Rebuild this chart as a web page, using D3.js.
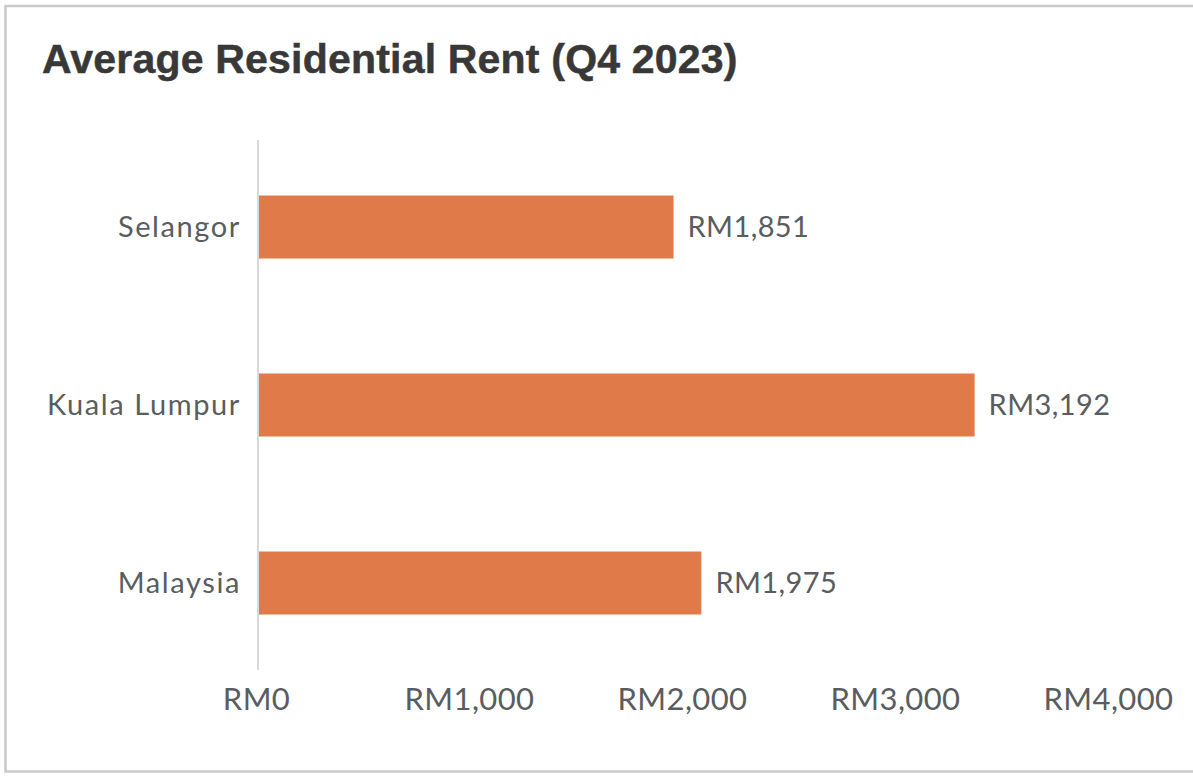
<!DOCTYPE html>
<html>
<head>
<meta charset="utf-8">
<script src="https://cdn.jsdelivr.net/npm/d3@7"></script>
<style>
  body { margin: 0; background: #fff; }
  svg { display: block; }
</style>
</head>
<body>
<script>
var categories = ['Selangor', 'Kuala Lumpur', 'Malaysia']
var rents = [1851, 3192, 1975]
var tickValues = [0, 1000, 2000, 3000, 4000]

var width = 1193, height = 776

var svg = d3.select('body').append('svg')
    .attr('width', width)
    .attr('height', height)

// outer frame (right edge runs off the picture)
svg.append('path')
    .attr('d', 'M1196,6H5.5V771.5H1196')
    .attr('fill', 'none')
    .attr('stroke', '#c9c9c9')
    .attr('stroke-width', 2.5)

svg.append('text')
    .attr('x', 42)
    .attr('y', 73)
    .attr('font-family', 'Liberation Sans, Arial, sans-serif')
    .attr('font-weight', 'bold')
    .attr('font-size', 41)
    .attr('letter-spacing', 0.2)
    .attr('fill', '#383838')
    .attr('stroke', '#383838')
    .attr('stroke-width', 0.5)
    .text('Average Residential Rent (Q4 2023)')

// bars and tick labels don't share spacing in the source image
var x = d3.scaleLinear().domain([0, 4000]).range([258, 1156])
var xTick = d3.scaleLinear().domain([0, 4000]).range([256, 1108])
var y = d3.scaleBand().domain(categories).range([138, 672]).paddingInner(0.646).paddingOuter(0.323)

var fmt = d3.format(',')
var textColor = '#595d60'
var labelFont = 'Lato, sans-serif'

svg.selectAll('rect.bar')
    .data(rents)
    .enter()
    .append('rect')
    .attr('class', 'bar')
    .attr('x', x(0))
    .attr('y', function (d, i) { return y(categories[i]) })
    .attr('width', function (d) { return x(d) - x(0) })
    .attr('height', y.bandwidth())
    .attr('fill', '#e07a48')

svg.append('line')
    .attr('x1', x(0)).attr('x2', x(0))
    .attr('y1', 140).attr('y2', 670)
    .attr('stroke', '#d9d9d9')
    .attr('stroke-width', 2)

svg.selectAll('text.cat')
    .data(categories)
    .enter()
    .append('text')
    .attr('class', 'cat')
    .attr('x', 241)
    .attr('y', function (d) { return y(d) + y.bandwidth() / 2 })
    .attr('dy', '0.35em')
    .attr('text-anchor', 'end')
    .attr('font-family', labelFont)
    .attr('font-size', 29)
    .attr('letter-spacing', 1.6)
    .attr('fill', textColor)
    .text(function (d) { return d })

svg.selectAll('text.val')
    .data(rents)
    .enter()
    .append('text')
    .attr('class', 'val')
    .attr('x', function (d) { return x(d) + 14 })
    .attr('y', function (d, i) { return y(categories[i]) + y.bandwidth() / 2 })
    .attr('dy', '0.35em')
    .attr('font-family', labelFont)
    .attr('font-size', 29)
    .attr('letter-spacing', 0.4)
    .attr('fill', textColor)
    .text(function (d) { return 'RM' + fmt(d) })

var axis = d3.axisBottom(xTick)
    .tickValues(tickValues)
    .tickSize(0)
    .tickPadding(0)
    .tickFormat(function (d) { return 'RM' + fmt(d) })

var gx = svg.append('g')
    .attr('transform', 'translate(0,688)')
    .call(axis)
gx.select('.domain').remove()
gx.selectAll('text')
    .attr('font-family', labelFont)
    .attr('font-size', 31)
    .attr('letter-spacing', 0.4)
    .attr('fill', textColor)
</script>
</body>
</html>
